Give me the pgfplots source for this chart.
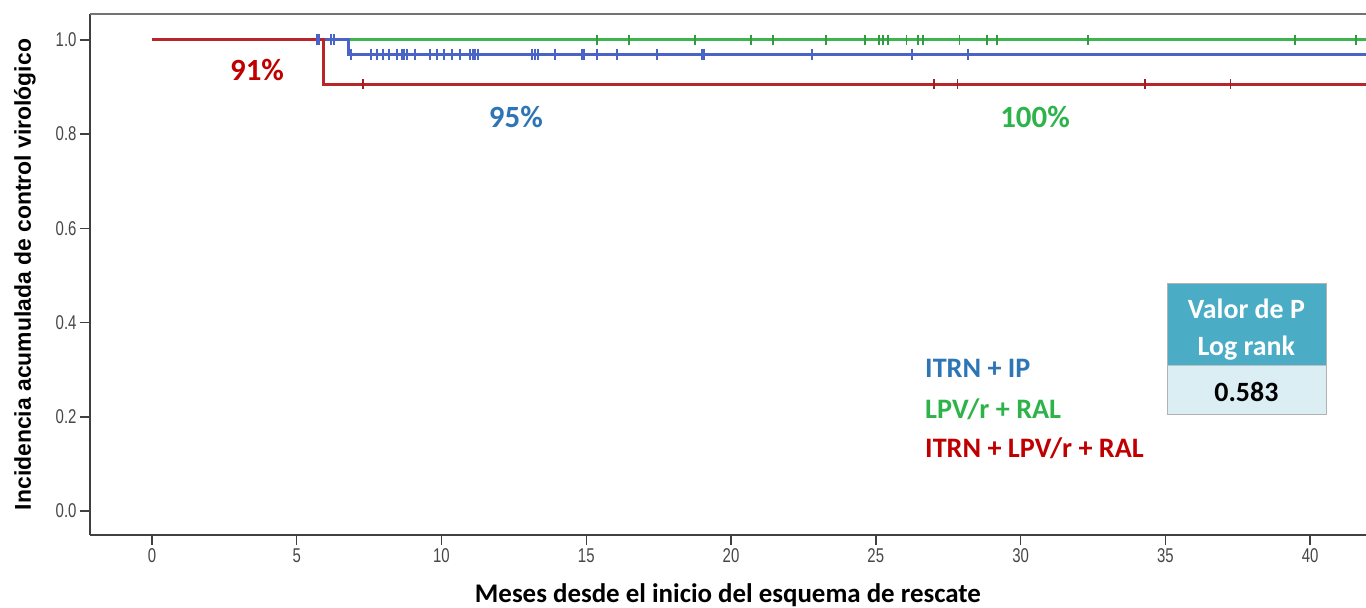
\documentclass[border=0pt]{standalone}
\usepackage{pgfplots}
\pgfplotsset{compat=1.18}
\usepackage{fontspec}
\setmainfont{Carlito}
\newfontfamily\tickfont[FakeStretch=0.75]{Liberation Sans}
\newfontfamily\arialfont{Liberation Sans}
\definecolor{kmred}{HTML}{B8262C}
\definecolor{kmblue}{HTML}{4A63C6}
\definecolor{kmgreen}{HTML}{3DB54E}
\definecolor{txred}{HTML}{C00000}
\definecolor{txblue}{HTML}{2E75B6}
\definecolor{txgreen}{HTML}{2EB34B}
\definecolor{hdr}{HTML}{4BACC6}
\definecolor{cell}{HTML}{DAEEF3}
\begin{document}
\begin{tikzpicture}
\begin{axis}[
  name=ax, at={(0,0)}, anchor=south west,
  width=1276bp, height=521bp, scale only axis,
  xmin=-2.14, xmax=41.93, ymin=-0.051, ymax=1.055,
  clip=false,
  axis x line*=bottom, axis y line*=left,
  axis line style={black!75, line width=2bp},
  xtick={0,5,...,40}, ytick={0,0.2,...,1.0},
  xtick pos=left, ytick pos=left,
  tick align=outside, major tick length=10bp,
  tick style={black!75, line width=1.5bp},
  /pgf/number format/assume math mode=true,
  ticklabel style={font=\tickfont\fontsize{20}{20}\selectfont, text=black!72},
  yticklabel style={/pgf/number format/.cd, fixed, fixed zerofill, precision=1},
  xlabel={Meses desde el inicio del esquema de rescate},
  xlabel style={font=\bfseries\fontsize{27}{27}\selectfont, at={(axis description cs:0.5,0)}, anchor=base, yshift=-67bp},
  ylabel={Incidencia acumulada de control virológico},
  ylabel style={font=\arialfont\bfseries\fontsize{23}{23}\selectfont, at={(axis description cs:0,0.5)}, anchor=center, yshift=65bp},
]
% step curves
\addplot[kmgreen, line width=3bp, const plot] coordinates {(0,1) (41.93,1)};
\addplot[kmblue, line width=3bp, const plot] coordinates {(0,1) (6.80,0.970) (41.93,0.970)};
\addplot[kmred, line width=3bp, const plot] coordinates {(0,1) (5.94,0.906) (41.93,0.906)};
% censor marks
\addplot[only marks, mark=|, mark size=5bp, kmgreen!85!black, mark options={line width=1.3bp}] coordinates {
(15.37,1) (16.48,1) (18.76,1) (20.69,1) (21.45,1) (23.28,1) (24.63,1) (25.11,1) (25.25,1) (25.42,1)
(26.05,1) (26.46,1) (26.63,1) (27.88,1) (28.84,1) (29.19,1) (32.33,1) (39.48,1) (41.59,1)};
\addplot[only marks, mark=|, mark size=5.5bp, kmblue, mark options={line width=1.5bp}] coordinates {
(5.70,1) (5.77,1) (6.18,1) (6.29,1)
(6.87,0.970) (7.56,0.970) (7.77,0.970) (7.98,0.970) (8.19,0.970) (8.46,0.970) (8.64,0.970) (8.70,0.970) (8.81,0.970)
(9.08,0.970) (9.60,0.970) (9.84,0.970) (10.09,0.970) (10.36,0.970) (10.64,0.970) (10.98,0.970) (11.09,0.970)
(11.16,0.970) (11.26,0.970) (13.13,0.970) (13.23,0.970) (13.33,0.970) (13.92,0.970) (14.85,0.970) (14.92,0.970)
(15.37,0.970) (16.06,0.970) (17.44,0.970) (19.00,0.970) (19.07,0.970) (22.80,0.970) (26.25,0.970) (28.19,0.970)};
\addplot[only marks, mark=|, mark size=5bp, kmred!85!black, mark options={line width=1.3bp}] coordinates {
(7.29,0.906) (27.01,0.906) (27.81,0.906) (34.30,0.906) (37.24,0.906)};
% percentages
\node[txred, font=\bfseries\fontsize{31}{31}\selectfont] at (axis cs:3.63,0.936) {91\%};
\node[txblue, font=\bfseries\fontsize{31}{31}\selectfont] at (axis cs:12.57,0.836) {95\%};
\node[txgreen, font=\bfseries\fontsize{31}{31}\selectfont] at (axis cs:30.5,0.836) {100\%};
% legend text
\node[txblue, anchor=west, inner sep=0pt, font=\bfseries\fontsize{28.3}{28.3}\selectfont] at (axis cs:26.70,0.302) {ITRN + IP};
\node[txgreen, anchor=west, inner sep=0pt, font=\bfseries\fontsize{28.3}{28.3}\selectfont] at (axis cs:26.70,0.217) {LPV/r + RAL};
\node[txred, anchor=west, inner sep=0pt, font=\bfseries\fontsize{28.3}{28.3}\selectfont] at (axis cs:26.70,0.134) {ITRN + LPV/r + RAL};
% p-value box
\fill[hdr] (axis cs:35.06,0.3085) rectangle (axis cs:40.55,0.483);
\node[white, font=\bfseries\fontsize{28}{28}\selectfont] at (axis cs:37.80,0.430) {Valor de P};
\node[white, font=\bfseries\fontsize{28}{28}\selectfont] at (axis cs:37.80,0.345) {Log rank};
\fill[cell] (axis cs:35.06,0.206) rectangle (axis cs:40.55,0.3085);
\draw[black!30, line width=0.8bp] (axis cs:35.06,0.206) rectangle (axis cs:40.55,0.483);
\draw[black!25, line width=0.8bp] (axis cs:35.06,0.3085) -- (axis cs:40.55,0.3085);
\node[black, font=\bfseries\fontsize{28}{28}\selectfont] at (axis cs:37.80,0.253) {0.583};
% top frame line
\draw[black!55, line width=2.5bp] (rel axis cs:0,1) -- (rel axis cs:1,1);
\end{axis}
\pgfresetboundingbox
\path[use as bounding box] (-90bp,-73bp) rectangle (1276bp,535bp);
\end{tikzpicture}
\end{document}
